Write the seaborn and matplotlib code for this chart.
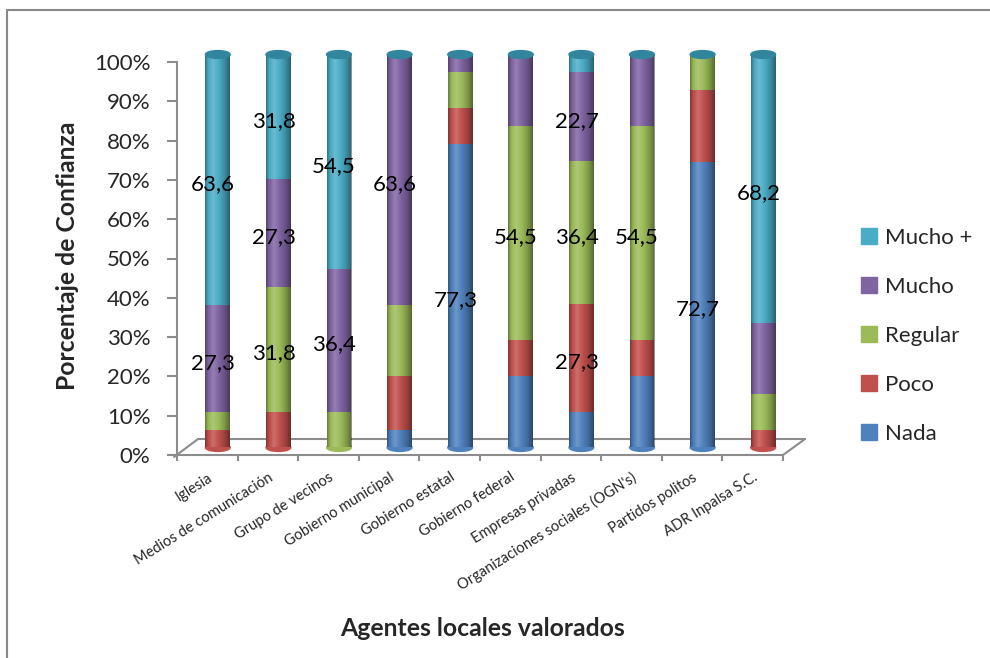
import numpy as np
import pandas as pd
import matplotlib.pyplot as plt
import seaborn as sns
from matplotlib.lines import Line2D
from matplotlib.patches import Ellipse

# Datos (porcentajes por agente)
agentes = ['Iglesia', 'Medios de comunicación', 'Grupo de vecinos', 'Gobierno municipal',
           'Gobierno estatal', 'Gobierno federal', 'Empresas privadas',
           "Organizaciones sociales (OGN's)", 'Partidos politos', 'ADR Inpalsa S.C.']
nada = [0, 0, 0, 4.5, 77.3, 18.2, 9.1, 18.2, 72.7, 0]
poco = [4.5, 9.1, 0, 13.6, 9.1, 9.1, 27.3, 9.1, 18.2, 4.5]
regular = [4.5, 31.8, 9.1, 18.2, 9.1, 54.5, 36.4, 54.5, 9.1, 9.1]
mucho = [27.3, 27.3, 36.4, 63.6, 4.5, 18.2, 22.7, 18.2, 0, 18.2]
mucho_mas = [63.6, 31.8, 54.5, 0, 0, 0, 4.5, 0, 0, 68.2]

niveles = ['Mucho +', 'Mucho', 'Regular', 'Poco', 'Nada']
colores = ['#4BACC6', '#8064A2', '#9BBB59', '#C0504D', '#4F81BD']

sns.set_theme(style='white')
plt.rcParams['font.family'] = ['Lato', 'DejaVu Sans']

df = pd.DataFrame({'pos': range(len(agentes)), 'Nada': nada, 'Poco': poco,
                   'Regular': regular, 'Mucho': mucho, 'Mucho +': mucho_mas})
largo = df.melt(id_vars='pos', value_vars=niveles, var_name='nivel', value_name='pct')

W, H = 990, 658
fig = plt.figure(figsize=(W / 100, H / 100), dpi=100)
GRIS = '#8C8C8C'

# ejes "frontales" (escala y etiquetas) y ejes de las barras (desplazados, efecto 3D)
x0, x1, y0, y1 = 177, 783, 455, 62
ax = fig.add_axes([x0 / W, (H - y0) / H, (x1 - x0) / W, (y0 - y1) / H])
dx, dy = 10.5, 7.5
axb = fig.add_axes([(x0 + dx) / W, (H - y0 + dy) / H, (x1 - x0) / W, (y0 - y1) / H])
axb.patch.set_alpha(0)

sns.histplot(data=largo, x='pos', weights='pct', hue='nivel', hue_order=niveles,
             multiple='stack', discrete=True, shrink=0.41, palette=colores,
             alpha=1, linewidth=0, legend=False, ax=axb)

ancho = 0.41
t = np.linspace(0, 1, 200)
v = np.interp(t, [0, 0.12, 0.32, 0.55, 0.8, 1], [-0.35, -0.05, 0.18, 0.0, -0.2, -0.45])
sombra = np.zeros((1, len(t), 4))
sombra[0, :, :3] = np.where(v[:, None] > 0, 1.0, 0.0)
sombra[0, :, 3] = np.abs(v)
for i in range(len(agentes)):
    axb.imshow(sombra, extent=[i - ancho / 2, i + ancho / 2, 0, 100], aspect='auto',
               interpolation='bilinear', zorder=3)
    axb.add_patch(Ellipse((i, 100), ancho, 2.0, color='#31859C', zorder=4, clip_on=False))
    base = [nada[i], poco[i], regular[i], mucho[i], mucho_mas[i]]
    col_base = colores[::-1][next(k for k, b in enumerate(base) if b > 0)]
    axb.add_patch(Ellipse((i, 0), ancho, 2.0, color=col_base, zorder=0.5, clip_on=False))
    acum = 0
    for b in base:
        if b > 20:
            axb.annotate(f'{b:.1f}'.replace('.', ','), (i, acum + b / 2),
                         xytext=(-3.5, -3), textcoords='offset points',
                         ha='center', va='center', fontsize=16, color='black', zorder=5)
        acum += b

axb.set_xlim(-0.5, 9.5)
axb.set_ylim(0, 100)
axb.axis('off')

# eje principal
ax.set_xlim(-0.5, 9.5)
ax.set_ylim(0, 100)
for s in ['top', 'right', 'bottom']:
    ax.spines[s].set_visible(False)
ax.spines['left'].set_color(GRIS)
ax.spines['left'].set_linewidth(1.5)
ax.set_yticks(range(0, 101, 10))
ax.set_yticklabels([f'{p}%' for p in range(0, 101, 10)], fontsize=16)
ax.tick_params(axis='y', length=7, width=1.5, color=GRIS, pad=12, left=True)
ax.set_xticks(range(len(agentes)))
ax.set_xticklabels(agentes, rotation=32, ha='right', rotation_mode='anchor', fontsize=10.5)
ax.set_xticks(np.arange(-0.5, 10, 1), minor=True)
ax.tick_params(axis='x', which='major', length=0, pad=11)
ax.tick_params(axis='x', which='minor', length=4, width=1.5, color=GRIS, bottom=True)

ax.set_ylabel('Porcentaje de Confianza', fontsize=17.8, fontweight='bold')
ax.yaxis.set_label_coords((79 - x0) / (x1 - x0), (y0 - 256) / (y0 - y1))
ax.set_xlabel('Agentes locales valorados', fontsize=17.8, fontweight='bold')
ax.xaxis.set_label_coords((483 - x0) / (x1 - x0), (y0 - 617) / (y0 - y1))

# suelo 3D
def px(x, y):
    return x / W, (H - y) / H

suelo = [((x0, 455), (x1, 455)), ((x0 + 21, 439), (x1 + 22, 439)),
         ((x0 - 3, 457), (x0 + 21, 439)), ((x1, 455), (x1 + 22, 439))]
for (a, b) in suelo:
    xa, ya = px(*a)
    xb, yb = px(*b)
    ax.add_line(Line2D([xa, xb], [ya, yb], transform=fig.transFigure, color=GRIS,
                       lw=1.5, clip_on=False, zorder=0))

# marco exterior (solo borde superior e izquierdo visibles)
for (a, b) in [((7, 10), (990, 10)), ((7, 10), (7, 658))]:
    xa, ya = px(*a)
    xb, yb = px(*b)
    fig.add_artist(Line2D([xa, xb], [ya, yb], transform=fig.transFigure, color='#888888', lw=1.5))

# leyenda
manejadores = [Line2D([], [], marker='s', linestyle='', markersize=11, color=c) for c in colores]
fig.legend(manejadores, niveles, loc='center left', bbox_to_anchor=(838 / W, (H - 336) / H),
           frameon=False, fontsize=16, labelspacing=1.3, handletextpad=0.2,
           handlelength=1.0)

fig.savefig('out.png', dpi=100)
